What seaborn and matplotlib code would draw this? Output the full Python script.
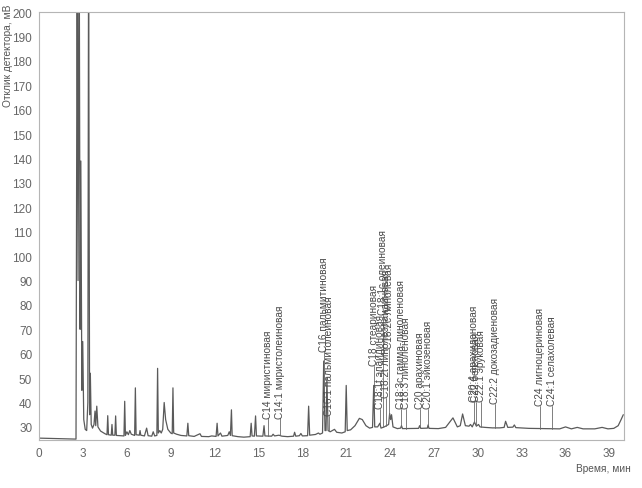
import numpy as np
import pandas as pd
import matplotlib
matplotlib.use("Agg")
import matplotlib.pyplot as plt
import seaborn as sns

# chromatogram trace: time (min) and detector response (mV)
time_min = [
    0.0, 1.0, 2.0, 2.52, 2.60, 2.66, 2.74, 2.80, 2.85, 2.92, 2.98, 3.05, 3.15, 3.25,
    3.33, 3.38, 3.45, 3.50, 3.56, 3.65, 3.75, 3.82, 3.87, 3.94, 4.02, 4.2, 4.5,
    4.64, 4.69, 4.74, 4.93, 4.98, 5.03, 5.18, 5.23, 5.28, 5.5, 5.80, 5.85, 5.90,
    6.0, 6.1, 6.2, 6.3, 6.53, 6.58, 6.63, 6.85, 6.9, 6.95, 7.2, 7.35, 7.45, 7.7,
    7.8, 7.9, 8.05, 8.1, 8.15, 8.25, 8.35, 8.45, 8.55, 8.65, 8.8, 9.0, 9.1, 9.15,
    9.2, 9.4, 9.7, 10.1, 10.17, 10.23, 10.6, 11.0, 11.1, 11.6, 11.8, 12.1, 12.17,
    12.23, 12.4, 12.5, 12.9, 13.0, 13.08, 13.15, 13.2, 13.6, 14.0, 14.43, 14.5,
    14.56, 14.72, 14.8, 14.86, 15.3, 15.38, 15.44, 15.9, 16.0, 16.1, 16.4, 16.6,
    17.0, 17.4, 17.47, 17.55, 17.8, 17.9, 18.0, 18.36, 18.43, 18.5, 18.9, 19.1,
    19.2, 19.38, 19.46, 19.55, 19.62, 19.68, 19.76, 19.9, 20.2, 20.35, 20.7,
    20.93, 21.0, 21.07, 21.3, 21.6, 21.9, 22.1, 22.35, 22.6, 22.8, 22.88, 22.95,
    23.15, 23.3, 23.38, 23.6, 23.9, 23.97, 24.04, 24.1, 24.2, 24.5, 24.72, 24.78,
    24.85, 25.95, 26.02, 26.1, 26.55, 26.6, 26.66, 27.3, 27.8, 28.3, 28.6, 28.8,
    28.96, 29.15, 29.4, 29.5, 29.62, 29.77, 29.9, 30.05, 30.15, 30.5, 31.0, 31.5,
    31.8, 31.9, 32.05, 32.4, 32.5, 32.6, 33.5, 34.5, 35.6, 36.0, 36.4, 36.8, 37.2,
    38.0, 38.5, 38.9, 39.3, 39.6, 39.8, 39.95,
]
response_mv = [
    25.4, 25.25, 25.1, 25.0, 230, 90, 230, 70, 139, 45, 65, 33, 29, 28.5,
    40, 230, 35, 52, 31, 29.5, 31, 36.5, 30.5, 38.5, 30, 28.3, 27.2,
    26.8, 34.6, 26.8, 26.6, 31, 26.6, 26.6, 34.5, 26.5, 26.4, 26.3, 40.5, 26.5,
    28.0, 26.8, 28.5, 27, 26.5, 46, 26.8, 26.6, 28.5, 26.6, 26.3, 29.5, 26.4, 26.2,
    28, 26.3, 26.5, 54, 27.5, 28.5, 27.5, 29, 40, 33, 29, 27.5, 27.2, 46,
    27.5, 27, 26.5, 26.3, 31.5, 26.4, 26.1, 27.2, 26.1, 26, 26.3, 26.1, 31.5,
    26.3, 27.5, 26.2, 26.5, 28, 26.5, 37, 26.4, 26, 25.8, 26, 31.5,
    26.3, 26.2, 34.5, 26.3, 26.2, 30.5, 26.3, 26.2, 27, 26.3, 26.6, 26.2,
    26.0, 26.2, 27.8, 26.2, 26.4, 27.3, 26.3, 26.4, 38.5, 26.6, 26.9, 27.5,
    27.0, 27.5, 57, 28.5, 28.5, 50, 28.5, 28, 29, 27.8, 27.5,
    28, 47, 28.5, 28.8, 30.5, 33.5, 33, 30.5, 29.5, 29.8, 47, 30,
    30, 31.5, 29.5, 30, 31, 35.5, 33, 35, 30, 29.3, 29.5, 30.5,
    29.3, 29.4, 30.5, 29.4, 29.5, 30.8, 29.4, 29.3, 29.8, 33.7, 30, 30.5,
    35.3, 30.5, 30.3, 31, 30, 32, 30.3, 31, 30, 29.8, 29.6, 29.6,
    29.8, 32.3, 29.8, 29.9, 30.8, 29.7, 29.4, 29.3, 29.2, 30, 29.2, 29.8, 29.2,
    29.2, 29.8, 29.2, 29.4, 30.5, 33, 35,
]

# peak labels: name, retention time, response where the text starts
peak_names = [
    "C14 миристиновая", "C14:1 миристолеиновая", "C16 пальмитиновая",
    "C16:1 пальмитолеиновая", "C18 стеариновая", "C18:1t элаидиновая",
    "C18:1c олеиновая", "C18:2t линолеэлаидиновая", "C18:2c линолевая",
    "C18:3c гамма-линоленовая", "C18:3 линоленовая", "C20 арахиновая",
    "C20:1 эйкозеновая", "C20:4 арахидоновая", "C22 бегеновая",
    "C22:1 эруковая", "C22:2 докозадиеновая", "C24 лигноцериновая",
    "C24:1 селахолевая",
]
peak_times = [15.62, 16.45, 19.5, 19.85, 22.9, 23.32, 23.5, 23.72, 23.95,
              24.75, 25.1, 26.02, 26.6, 29.75, 29.85, 30.2, 31.2, 34.25, 35.1]
label_base = [33.5, 33.5, 61, 34.5, 55, 37.5, 76, 42, 62,
              37.5, 37.5, 37.5, 37.5, 40.3, 40.3, 40.3, 39.5, 38.6, 38.6]

df = pd.DataFrame({"t": time_min, "mv": response_mv})

sns.set_style("white")
plt.rcParams["font.family"] = ["Liberation Sans", "DejaVu Sans"]

fig = plt.figure(figsize=(6.42, 4.89), dpi=100)
ax = fig.add_axes([0.061, 0.098, 0.911, 0.875])

sns.lineplot(data=df, x="t", y="mv", estimator=None, color="#5a5a5a",
             linewidth=0.9, ax=ax)

for name, t, yb in zip(peak_names, peak_times, label_base):
    y0 = np.interp(t, time_min, response_mv)
    ax.plot([t, t], [y0, yb], color="#6a6a6a", linewidth=0.6)
    ax.text(t, yb + 0.3, name, rotation=90, ha="center", va="bottom",
            fontsize=7.3, color="#4a4a4a")

ax.set_xlim(0, 40)
ax.set_ylim(24.6, 200)
ax.set_xticks(np.arange(0, 40, 3))
ax.set_yticks(np.arange(30, 201, 10))
ax.tick_params(axis="both", direction="out", length=3, width=0.6,
               color="#999999", labelsize=8.5, labelcolor="#666666", pad=2)
for s in ax.spines.values():
    s.set_color("#b5b5b5")
    s.set_linewidth(0.8)
ax.set_xlabel("")
ax.set_ylabel("")

fig.text(0.013, 0.99, "Отклик детектора, мВ", rotation=90, ha="center",
         va="top", fontsize=7.3, color="#555555")
fig.text(0.94, 0.04, "Время, мин", ha="center", va="center",
         fontsize=7.3, color="#555555")

fig.savefig("out.png", dpi=100)
